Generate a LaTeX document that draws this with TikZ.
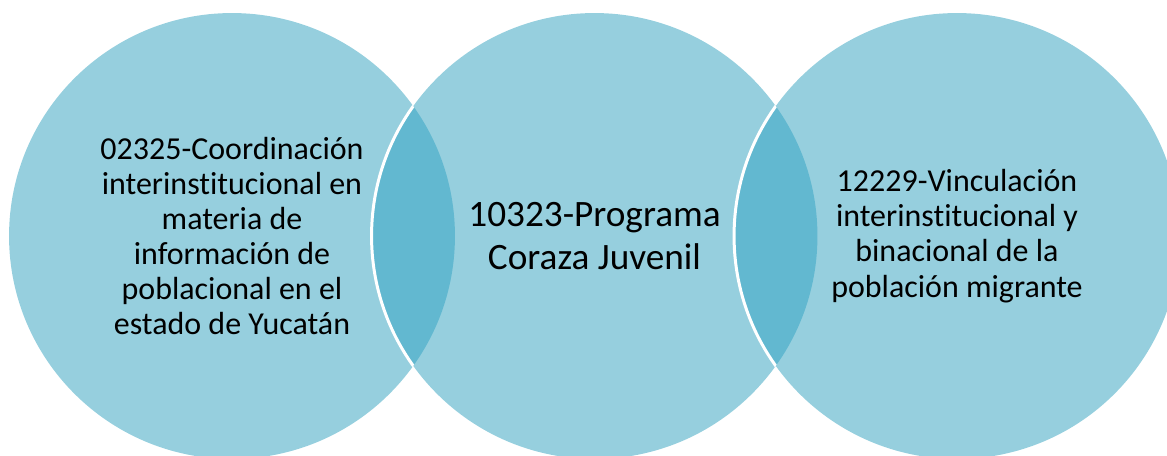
\documentclass[tikz,border=0pt]{standalone}
\usepackage{fontspec}
\setmainfont{Carlito}[Ligatures=NoCommon]
\definecolor{vennlight}{RGB}{150,207,222}
\definecolor{venndark}{RGB}{98,184,208}

\begin{document}
\begin{tikzpicture}[x=0.02cm,y=-0.02cm]
  \def\r{4.46cm}
  \def\fy{236}

\tikzstyle{blob}=[circle,fill=vennlight,minimum size=8.92cm,inner sep=0pt]
\tikzstyle{lens}=[fill=venndark]
\tikzstyle{rim}=[draw=white,line width=1.7pt]
\tikzstyle{label}=[align=center,text=black,font=\fontsize{18.2}{20}\selectfont]
\useasboundingbox (0,0) rectangle (1167,456);
\node[blob] (C1) at (232,\fy) {};
\node[blob] (C2) at (594.5,\fy) {};
\node[blob] (C3) at (957,\fy) {};
% overlaps
\begin{scope}
\clip (C1.center) circle (\r);
\fill[lens] (C2.center) circle (\r);
\draw[rim] (C2.center) circle (\r);
\end{scope}
\begin{scope}
\clip (C2.center) circle (\r);
\fill[lens] (C3.center) circle (\r);
\draw[rim] (C3.center) circle (\r);
\end{scope}
\node[label] (T1) at (C1) {02325-Coordinación\\interinstitucional en\\materia de\\información de\\poblacional en el\\estado de Yucatán};
\node[label,font=\fontsize{21.2}{24.5}\selectfont] (T2) at (C2) {10323-Programa\\Coraza Juvenil};
\node[label] (T3) at (C3) {12229-Vinculación\\interinstitucional y\\binacional de la\\población migrante};
\end{tikzpicture}
\end{document}
